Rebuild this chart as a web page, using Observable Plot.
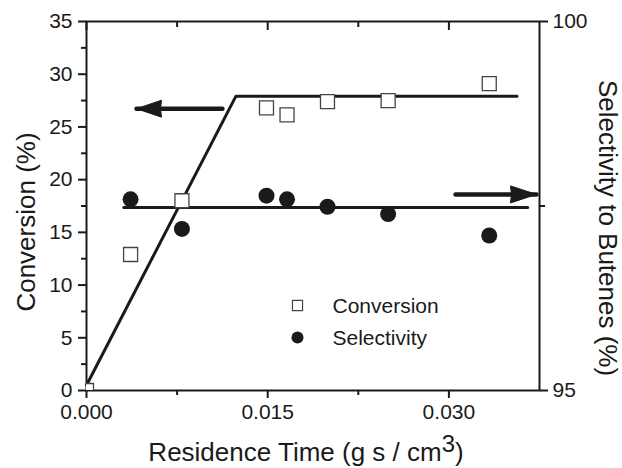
<!DOCTYPE html>
<html>
<head>
<meta charset="utf-8">
<script src="https://cdn.jsdelivr.net/npm/d3@7"></script>
<script src="https://cdn.jsdelivr.net/npm/@observablehq/plot@0.6"></script>
<style>
  body { margin: 0; background: #fff; }
</style>
</head>
<body>
<div id="chart"></div>
<script>
// ---- data ----
const residenceTime = [0, 0.00365, 0.0079, 0.0149, 0.0166, 0.01995, 0.02497, 0.03334];
const conversion = [0, 12.9, 18.0, 26.8, 26.15, 27.4, 27.5, 29.1];
const selectivityTime = [0.00365, 0.0079, 0.0149, 0.0166, 0.01995, 0.02497, 0.03334];
const selectivity = [97.59, 97.19, 97.64, 97.59, 97.49, 97.39, 97.10];

const conversionFitX = [0, 0.01237, 0.03564];
const conversionFitY = [0.5, 27.92, 27.92];
const selectivityFitX = [0.00309, 0.03652];
const selectivityFitY = [97.48, 97.48];

// arrows: [tailX, tipX, y(conversion scale)]
const arrowTailX = [0.01125, 0.03055];
const arrowTipX = [0.00414, 0.03725];
const arrowY = [26.73, 18.6];
const arrowDir = ["left", "right"];

const xTicks = [0, 0.015, 0.030];
const xMinorTicks = [0.0075, 0.0225];
const yTicks = [0, 5, 10, 15, 20, 25, 30, 35];
const yMinorTicks = [2.5, 7.5, 12.5, 17.5, 22.5, 27.5, 32.5];
const rightTicks = [95, 100];
const rightMinorTicks = [97.5];

const seriesNames = ["Conversion", "Selectivity"];

// selectivity axis (95–100) mapped onto the conversion axis (0–35)
const toLeft = s => (s - 95) * 7;

const conv = residenceTime.map((x, i) => ({x, y: conversion[i]}));
const sel = selectivityTime.map((x, i) => ({x, y: toLeft(selectivity[i])}));
const convFit = conversionFitX.map((x, i) => ({x, y: conversionFitY[i]}));
const selFit = selectivityFitX.map((x, i) => ({x, y: toLeft(selectivityFitY[i])}));
const arrows = arrowTailX.map((x1, i) => ({x1, x2: arrowTipX[i], y: arrowY[i], dir: arrowDir[i]}));

const headRight = {draw(c) { c.moveTo(0, 0); c.lineTo(-26, -8.5); c.lineTo(-25, 0); c.lineTo(-26, 8.5); c.closePath(); }};
const headLeft = {draw(c) { c.moveTo(0, 0); c.lineTo(25, -8.5); c.lineTo(24, 0); c.lineTo(25, 8.5); c.closePath(); }};

const ink = "#1a1a1a";

const chart = Plot.plot({
  width: 622,
  height: 468,
  marginLeft: 86,
  marginRight: 83,
  marginTop: 21,
  marginBottom: 78,
  style: {fontFamily: "'Liberation Sans', Arial, sans-serif", fontSize: "21px", color: ink, background: "#fff"},
  x: {domain: [0, 0.0375]},
  y: {domain: [0, 35]},
  marks: [
    // axes
    Plot.axisX({ticks: xTicks, tickFormat: d3.format(".3f"), tickSize: 8, tickPadding: 6, strokeWidth: 2, label: null}),
    Plot.axisX({ticks: xMinorTicks, tickSize: 5, text: null, strokeWidth: 2, label: null}),
    Plot.axisX({anchor: "top", ticks: xTicks, tickSize: -8, text: null, strokeWidth: 2, label: null}),
    Plot.axisX({anchor: "top", ticks: xMinorTicks, tickSize: -5, text: null, strokeWidth: 2, label: null}),
    Plot.axisY({ticks: yTicks, tickSize: 8, tickPadding: 6, strokeWidth: 2, label: null}),
    Plot.axisY({ticks: yMinorTicks, tickSize: 5, text: null, strokeWidth: 2, label: null}),
    Plot.axisY({anchor: "right", ticks: rightTicks.map(toLeft), tickFormat: d => String(Math.round(95 + d / 7)), tickSize: 8, tickPadding: 5, strokeWidth: 2, label: null}),
    Plot.axisY({anchor: "right", ticks: rightMinorTicks.map(toLeft), tickSize: 5, text: null, strokeWidth: 2, label: null}),
    Plot.frame({stroke: ink, strokeWidth: 2}),

    // fitted lines
    Plot.line(convFit, {x: "x", y: "y", stroke: ink, strokeWidth: 3}),
    Plot.line(selFit, {x: "x", y: "y", stroke: ink, strokeWidth: 3}),

    // arrows
    Plot.link(arrows, {x1: "x1", x2: "x2", y1: "y", y2: "y", stroke: ink, strokeWidth: 4.5, strokeLinecap: "round"}),
    Plot.dot(arrows.filter(d => d.dir === "left"), {x: "x2", y: "y", symbol: headLeft, fill: ink, stroke: ink, strokeWidth: 1, strokeLinejoin: "round"}),
    Plot.dot(arrows.filter(d => d.dir === "right"), {x: "x2", y: "y", symbol: headRight, fill: ink, stroke: ink, strokeWidth: 1, strokeLinejoin: "round"}),

    // data points
    Plot.dot(conv, {x: "x", y: "y", symbol: "square", r: 7.9, fill: "#fff", stroke: "#444", strokeWidth: 1.3, clip: true}),
    Plot.dot(sel, {x: "x", y: "y", symbol: "circle", r: 8, fill: ink, stroke: "none"}),

    // legend
    Plot.dot([seriesNames[0]], {frameAnchor: "top-left", dx: 211, dy: 284, symbol: "square", r: 5.7, fill: "#fff", stroke: "#444", strokeWidth: 1.2}),
    Plot.dot([seriesNames[1]], {frameAnchor: "top-left", dx: 211, dy: 316, symbol: "circle", r: 6, fill: ink}),
    Plot.text([seriesNames[0]], {frameAnchor: "top-left", dx: 246, dy: 285, text: d => d, textAnchor: "start", lineAnchor: "middle", fontSize: 21, fill: ink}),
    Plot.text([seriesNames[1]], {frameAnchor: "top-left", dx: 246, dy: 317, text: d => d, textAnchor: "start", lineAnchor: "middle", fontSize: 21, fill: ink}),

    // axis titles
    Plot.text(["Conversion (%)"], {frameAnchor: "left", dx: -60, dy: 16, rotate: -90, text: d => d, textAnchor: "middle", lineAnchor: "middle", fontSize: 26, fill: ink}),
    Plot.text(["Selectivity to Butenes (%)"], {frameAnchor: "right", dx: 68, dy: 22, rotate: 90, text: d => d, textAnchor: "middle", lineAnchor: "middle", fontSize: 26, fill: ink}),
    Plot.text(["Residence Time (g s / cm3)"], {frameAnchor: "bottom", dx: -7, dy: 62, text: d => d, textAnchor: "middle", lineAnchor: "middle", fontSize: 26, fill: ink})
  ]
});

// superscript for cm³
d3.select(chart).selectAll("text").filter(function () { return this.textContent === "Residence Time (g s / cm3)"; })
  .each(function () {
    const t = d3.select(this);
    t.text(null);
    t.append("tspan").text("Residence Time (g s / cm");
    t.append("tspan").attr("dy", "-0.38em").attr("font-size", "0.92em").text("3");
    t.append("tspan").attr("dy", "0.35em").text(")");
  });

document.getElementById("chart").append(chart);
</script>
</body>
</html>
